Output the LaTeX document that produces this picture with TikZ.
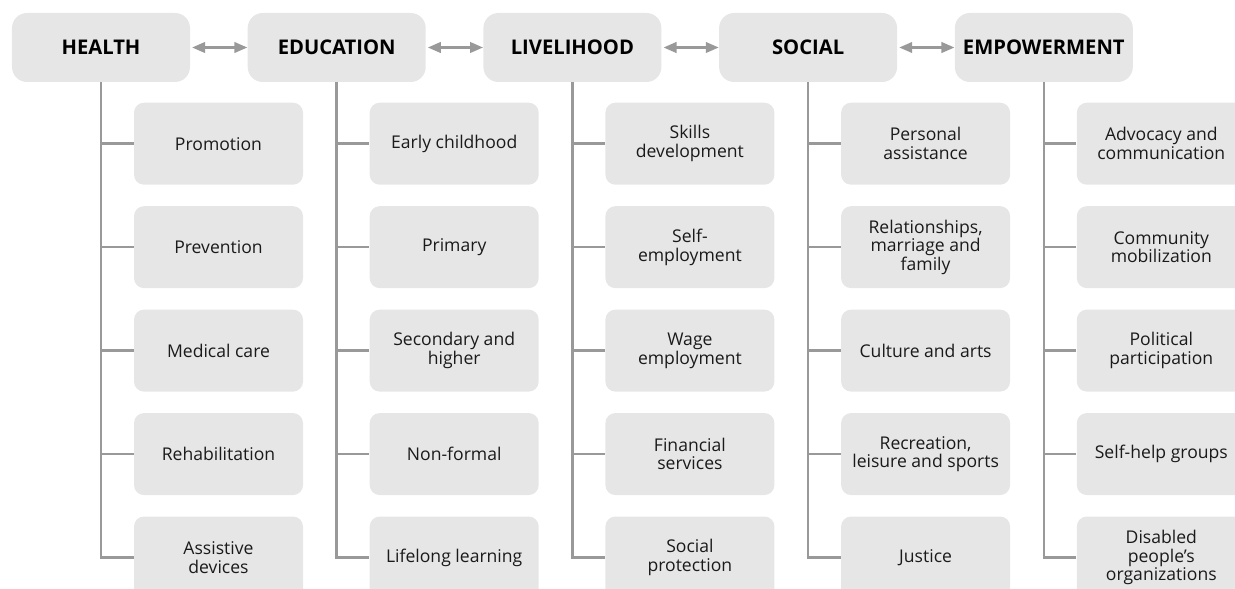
\documentclass[tikz,border=0pt]{standalone}
\usepackage{fontspec}
\setmainfont{Open Sans}
\usetikzlibrary{arrows.meta,positioning}

\definecolor{boxgray}{HTML}{E6E6E6}
\definecolor{linegray}{HTML}{999999}
\definecolor{textgray}{HTML}{1A1A1A}

\begin{document}
\begin{tikzpicture}

\tikzset{area/.style={fill=boxgray,draw=none,rounded corners=0.3cm,minimum width=3.56cm,minimum height=1.38cm,inner sep=0pt,text=black,font=\fontsize{11.5}{13}\selectfont\bfseries},
item/.style={fill=boxgray,draw=none,rounded corners=0.2cm,minimum width=3.38cm,minimum height=1.64cm,inner sep=0pt,align=center,text=textgray,font=\fontsize{10}{10.6}\selectfont},
links/.style={<->,>={Triangle[length=0.26cm,width=0.21cm]},draw=linegray,fill=linegray,line width=1.4pt,shorten <=1pt},
branch/.style={draw=linegray,line width=1.4pt}}

\useasboundingbox (-2.02,0.95) rectangle (22.68,-10.83);

% Main areas
\node (health) [area] {HEALTH};
\node (education) [right=1.14cm of health,area] {EDUCATION};
\node (livelihood) [right=1.14cm of education,area] {LIVELIHOOD};
\node (social) [right=1.14cm of livelihood,area] {SOCIAL};
\node (empower) [right=1.14cm of social,area] {EMPOWERMENT};

% Health components
\node (health1) [below=0.4cm of health,xshift=2.35cm,item] {Promotion};
\node (health2) [below=0.415cm of health1,item] {Prevention};
\node (health3) [below=0.415cm of health2,item] {Medical care};
\node (health4) [below=0.415cm of health3,item] {Rehabilitation};
\node (health5) [below=0.415cm of health4,item] {Assistive\\devices};

% Education components
\node (education1) [below=0.4cm of education,xshift=2.35cm,item] {Early childhood};
\node (education2) [below=0.415cm of education1,item] {Primary};
\node (education3) [below=0.415cm of education2,item] {Secondary and\\higher};
\node (education4) [below=0.415cm of education3,item] {Non-formal};
\node (education5) [below=0.415cm of education4,item] {Lifelong learning};

% Livelihood components
\node (livelihood1) [below=0.4cm of livelihood,xshift=2.35cm,item] {Skills\\development};
\node (livelihood2) [below=0.415cm of livelihood1,item] {Self-\\employment};
\node (livelihood3) [below=0.415cm of livelihood2,item] {Wage\\employment};
\node (livelihood4) [below=0.415cm of livelihood3,item] {Financial\\services};
\node (livelihood5) [below=0.415cm of livelihood4,item] {Social\\protection};

% Social components
\node (social1) [below=0.4cm of social,xshift=2.35cm,item] {Personal\\assistance};
\node (social2) [below=0.415cm of social1,item] {Relationships,\\marriage and\\family};
\node (social3) [below=0.415cm of social2,item] {Culture and arts};
\node (social4) [below=0.415cm of social3,item] {Recreation,\\leisure and sports};
\node (social5) [below=0.415cm of social4,item] {Justice};

% Empowerment components
\node (empower1) [below=0.4cm of empower,xshift=2.35cm,item] {Advocacy and\\communication};
\node (empower2) [below=0.415cm of empower1,item] {Community\\mobilization};
\node (empower3) [below=0.415cm of empower2,item] {Political\\participation};
\node (empower4) [below=0.415cm of empower3,item] {Self-help groups};
\node (empower5) [below=0.415cm of empower4,item] {Disabled\\people’s\\organizations};

% Arrows between areas
\draw [links] (health) -- (education);
\draw [links] (education) -- (livelihood);
\draw [links] (livelihood) -- (social);
\draw [links] (social) -- (empower);

% Trunks and branches
\draw [branch] (health.south) |- (health5.west);
\draw [branch] (health.south |- health1.west) -- (health1.west);
\draw [branch] (health.south |- health2.west) -- (health2.west);
\draw [branch] (health.south |- health3.west) -- (health3.west);
\draw [branch] (health.south |- health4.west) -- (health4.west);

\draw [branch] (education.south) |- (education5.west);
\draw [branch] (education.south |- education1.west) -- (education1.west);
\draw [branch] (education.south |- education2.west) -- (education2.west);
\draw [branch] (education.south |- education3.west) -- (education3.west);
\draw [branch] (education.south |- education4.west) -- (education4.west);

\draw [branch] (livelihood.south) |- (livelihood5.west);
\draw [branch] (livelihood.south |- livelihood1.west) -- (livelihood1.west);
\draw [branch] (livelihood.south |- livelihood2.west) -- (livelihood2.west);
\draw [branch] (livelihood.south |- livelihood3.west) -- (livelihood3.west);
\draw [branch] (livelihood.south |- livelihood4.west) -- (livelihood4.west);

\draw [branch] (social.south) |- (social5.west);
\draw [branch] (social.south |- social1.west) -- (social1.west);
\draw [branch] (social.south |- social2.west) -- (social2.west);
\draw [branch] (social.south |- social3.west) -- (social3.west);
\draw [branch] (social.south |- social4.west) -- (social4.west);

\draw [branch] (empower.south) |- (empower5.west);
\draw [branch] (empower.south |- empower1.west) -- (empower1.west);
\draw [branch] (empower.south |- empower2.west) -- (empower2.west);
\draw [branch] (empower.south |- empower3.west) -- (empower3.west);
\draw [branch] (empower.south |- empower4.west) -- (empower4.west);

\end{tikzpicture}
\end{document}
